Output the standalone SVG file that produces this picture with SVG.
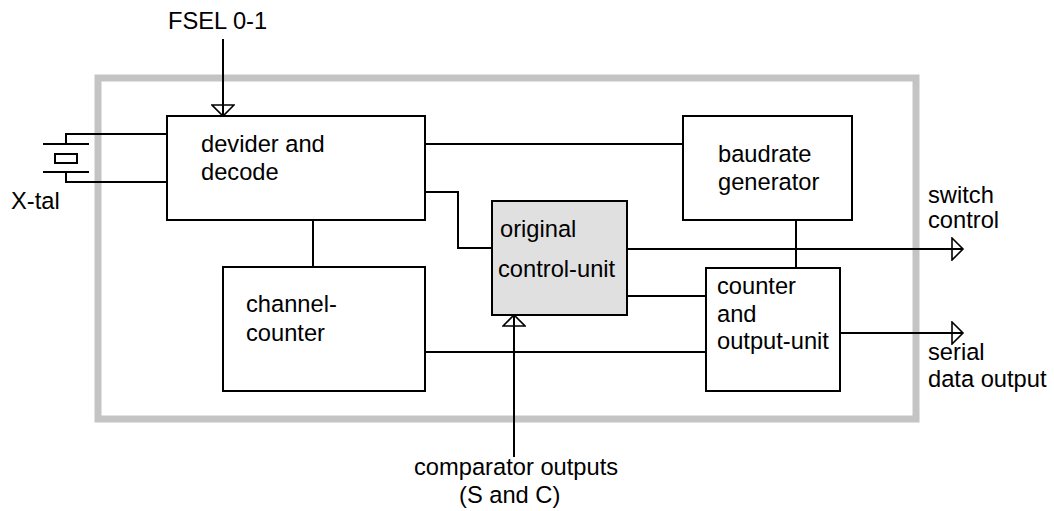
<svg xmlns="http://www.w3.org/2000/svg" width="1054" height="511" viewBox="0 0 1054 511">
  <style>
    .frame { fill: none; stroke: #c4c4c4; stroke-width: 7; }
    .box { fill: #ffffff; stroke: #000000; stroke-width: 2; }
    .shaded { fill: #e0e0e0; stroke: #000000; stroke-width: 2; }
    .wire { fill: none; stroke: #000000; stroke-width: 2; }
    .sig { fill: none; stroke: #000000; stroke-width: 2; marker-end: url(#openArrow); }
    text { font-family: "Liberation Sans", Arial, sans-serif; font-size: 23.7px; fill: #000000; }
  </style>
  <defs>
    <marker id="openArrow" markerUnits="userSpaceOnUse" viewBox="-1 -1 14 24" markerWidth="14" markerHeight="24" refX="11" refY="11" orient="auto">
      <path d="M0,0 L11,11 L0,22 Z" fill="none" stroke="#000000" stroke-width="1.6" stroke-linejoin="miter"/>
    </marker>
  </defs>

  <rect width="1054" height="511" fill="#ffffff"/>

  <!-- chip outline -->
  <rect class="frame" x="98" y="78" width="818" height="341"/>

  <!-- connectors -->
  <g id="connectors">
    <line class="sig" x1="223" y1="39" x2="223" y2="116"/>
    <line class="wire" x1="425" y1="144" x2="683" y2="144"/>
    <polyline class="wire" points="425,192 458,192 458,248 492,248"/>
    <line class="wire" x1="313" y1="220" x2="313" y2="267"/>
    <line class="sig" x1="627" y1="249" x2="963" y2="249"/>
    <line class="wire" x1="627" y1="296" x2="706" y2="296"/>
    <line class="wire" x1="425" y1="352" x2="706" y2="352"/>
    <line class="wire" x1="796" y1="220" x2="796" y2="268"/>
    <line class="sig" x1="840" y1="333" x2="963" y2="333"/>
    <line class="sig" x1="514" y1="457" x2="514" y2="315"/>
  </g>

  <!-- crystal -->
  <g id="xtal">
    <polyline class="wire" points="167,134 66,134 66,144"/>
    <line class="wire" x1="43" y1="144" x2="89" y2="144"/>
    <rect class="wire" x="55" y="154" width="22" height="9"/>
    <line class="wire" x1="43" y1="172" x2="89" y2="172"/>
    <polyline class="wire" points="66,172 66,182 167,182"/>
    <text x="11" y="209">X-tal</text>
  </g>

  <g id="fsel">
    <text x="168" y="29">FSEL 0-1</text>
  </g>

  <g id="divider">
    <rect class="box" x="167" y="116" width="258" height="104"/>
    <text x="201" y="152">devider and</text>
    <text x="201" y="180">decode</text>
  </g>

  <g id="baudrate">
    <rect class="box" x="683" y="116" width="169" height="104"/>
    <text x="718" y="162">baudrate</text>
    <text x="718" y="190">generator</text>
  </g>

  <g id="control-unit">
    <rect class="shaded" x="492" y="201" width="135" height="114"/>
    <text x="500" y="237">original</text>
    <text x="498" y="277">control-unit</text>
  </g>

  <g id="channel-counter">
    <rect class="box" x="223" y="267" width="202" height="124"/>
    <text x="246" y="312">channel-</text>
    <text x="246" y="341">counter</text>
  </g>

  <g id="output-unit">
    <rect class="box" x="706" y="268" width="134" height="123"/>
    <text x="717" y="294">counter</text>
    <text x="717" y="322">and</text>
    <text x="717" y="349">output-unit</text>
  </g>

  <g id="switch-control">
    <text x="928" y="203">switch</text>
    <text x="928" y="228">control</text>
  </g>

  <g id="serial-output">
    <text x="928" y="360">serial</text>
    <text x="928" y="387">data output</text>
  </g>

  <g id="comparator">
    <text x="414" y="475">comparator outputs</text>
    <text x="459" y="503">(S and C)</text>
  </g>
</svg>
